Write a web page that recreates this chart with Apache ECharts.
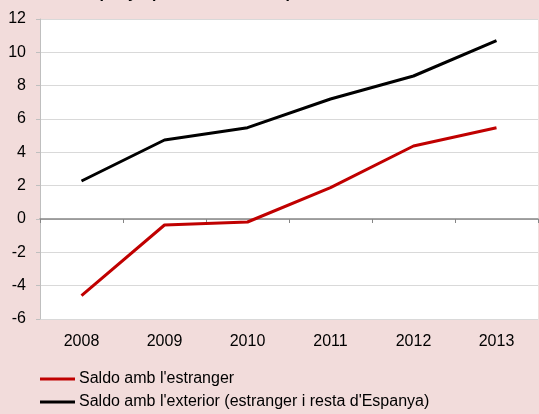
<!DOCTYPE html>
<html><head><meta charset="utf-8">
<script src="https://cdn.jsdelivr.net/npm/echarts@6/dist/echarts.min.js"></script>
<style>html,body{margin:0;padding:0;background:#f2dcdb;}#c{width:539px;height:414px;}</style>
</head><body><div id="c"></div>
<script>
const years = ['2008','2009','2010','2011','2012','2013'];
const saldoEstranger = [-4.6, -0.36, -0.18, 1.88, 4.38, 5.48];
const saldoExterior = [2.28, 4.74, 5.48, 7.2, 8.58, 10.7];
const yTicks = {min: -6, max: 12, interval: 2};
const seriesNames = ["Saldo amb l'estranger", "Saldo amb l'exterior (estranger i resta d'Espanya)"];

const FONT = "'Liberation Sans', Arial, sans-serif";
const chart = echarts.init(document.getElementById('c'), null, {renderer: 'canvas'});
chart.setOption({
  backgroundColor: '#f2dcdb',
  animation: false,
  textStyle: {fontFamily: FONT},
  graphic: [{
    type: 'text', left: 80, top: -14,
    style: {text: "Espanya (milers de milions)", font: "bold 16px " + FONT, fill: '#000'}
  }],
  grid: {left: 40, right: 1, top: 19, bottom: 95, show: true, backgroundColor: '#ffffff', borderWidth: 0},
  legend: {
    orient: 'vertical', left: 40, top: 371, height: 100, itemWidth: 35, itemHeight: 3, itemGap: 7,
    icon: 'rect', padding: 0,
    textStyle: {fontSize: 16, color: '#000', fontFamily: FONT, padding: [0, 0, 0, -1]},
    data: seriesNames
  },
  xAxis: [{
    type: 'category', data: years, position: 'bottom',
    axisLine: {show: false, onZero: false}, axisTick: {show: false},
    axisLabel: {fontSize: 16, color: '#000', margin: 15, fontFamily: FONT}
  }, {
    type: 'category', data: years, position: 'bottom',
    axisLine: {show: true, onZero: true, lineStyle: {color: '#868686', width: 1.5}},
    axisTick: {show: true, length: 4, inside: false, lineStyle: {color: '#868686'}},
    axisLabel: {show: false}
  }],
  yAxis: {
    type: 'value', min: yTicks.min, max: yTicks.max, interval: yTicks.interval,
    axisLine: {show: true, lineStyle: {color: '#bfbfbf'}},
    axisTick: {show: true, length: 4, lineStyle: {color: '#bfbfbf'}},
    axisLabel: {fontSize: 16, color: '#000', margin: 14, fontFamily: FONT},
    splitLine: {show: true, lineStyle: {color: '#d9d9d9'}}
  },
  series: [{
    name: seriesNames[0], type: 'line', data: saldoEstranger, xAxisIndex: 0,
    symbol: 'none', lineStyle: {color: '#c00000', width: 3}, itemStyle: {color: '#c00000'}
  }, {
    name: seriesNames[1], type: 'line', data: saldoExterior, xAxisIndex: 0,
    symbol: 'none', lineStyle: {color: '#000000', width: 3}, itemStyle: {color: '#000000'}
  }]
});
</script></body></html>
